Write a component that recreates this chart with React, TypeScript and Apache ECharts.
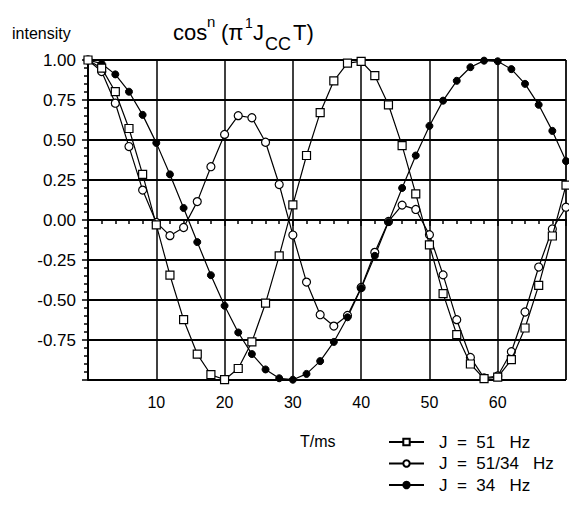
import React, { useEffect, useRef } from "react";
import * as echarts from "echarts";

const T_MS = [0, 2, 4, 6, 8, 10, 12, 14, 16, 18, 20, 22, 24, 26, 28, 30, 32, 34, 36, 38, 40, 42, 44, 46, 48, 50, 52, 54, 56, 58, 60, 62, 64, 66, 68, 70];

const J51 = [1, 0.949, 0.802, 0.572, 0.285, -0.031, -0.345, -0.623, -0.838, -0.967, -0.998, -0.928, -0.762, -0.52, -0.224, 0.094, 0.403, 0.671, 0.87, 0.981, 0.992, 0.902, 0.72, 0.465, 0.163, -0.156, -0.46, -0.716, -0.9, -0.991, -0.982, -0.873, -0.675, -0.409, -0.1, 0.218];

const J5134 = [1, 0.928, 0.73, 0.459, 0.187, -0.015, -0.098, -0.047, 0.115, 0.333, 0.535, 0.652, 0.639, 0.486, 0.222, -0.094, -0.388, -0.592, -0.663, -0.597, -0.422, -0.202, -0.009, 0.093, 0.066, -0.092, -0.343, -0.623, -0.859, -0.987, -0.975, -0.823, -0.575, -0.294, -0.056, 0.08];

const J34 = [1, 0.977, 0.91, 0.802, 0.657, 0.482, 0.285, 0.075, -0.138, -0.345, -0.536, -0.703, -0.838, -0.934, -0.989, -0.998, -0.962, -0.882, -0.762, -0.608, -0.426, -0.224, -0.013, 0.2, 0.403, 0.588, 0.746, 0.87, 0.955, 0.996, 0.992, 0.943, 0.851, 0.72, 0.557, 0.368];

const SERIES_NAMES = ["J  =  51   Hz", "J  =  51/34   Hz", "J  =  34   Hz"];
const X_TICKS_HIDDEN = [0, 70];

const FONT = "'Liberation Sans', Arial, Helvetica, sans-serif";

function pairs(ys: number[]) {
  return T_MS.map((t, i) => [t, ys[i]]);
}

function txt(text: string, x: number, baseline: number, size: number) {
  return {
    type: "text",
    x,
    y: baseline - size * 0.35,
    style: {
      text,
      fontSize: size,
      fontFamily: FONT,
      fill: "#000",
      align: "left",
      verticalAlign: "middle",
    },
  };
}

function legendRow(name: string, centerY: number) {
  return {
    orient: "horizontal",
    left: 388,
    top: centerY - 8.5,
    padding: 0,
    itemWidth: 35,
    itemHeight: 8,
    textStyle: { fontSize: 17, fontFamily: FONT, color: "#000", padding: [0, 0, 0, 10] },
    data: [name],
  };
}

export default function App() {
  const ref = useRef<HTMLDivElement>(null);
  useEffect(() => {
    if (!ref.current) return;
    const chart = echarts.init(ref.current, null, { renderer: "svg" });
    const lineStyle = { color: "#000", width: 1.2 };
    chart.setOption({
      animation: false,
      backgroundColor: "#fff",
      grid: {
        left: 88,
        top: 60,
        width: 480,
        height: 320,
        show: true,
        borderColor: "#000",
        borderWidth: 1,
        backgroundColor: "transparent",
      },
      xAxis: {
        type: "value",
        min: 0,
        max: 70,
        interval: 10,
        axisLine: { show: true, lineStyle: { color: "#000", width: 2 } },
        axisTick: { show: true, length: 6, lineStyle: { color: "#000", width: 1.5 } },
        minorTick: { show: true, splitNumber: 5, length: 4, lineStyle: { color: "#000", width: 1.5 } },
        splitLine: { show: true, lineStyle: { color: "#000", width: 1.5 } },
        axisLabel: {
          margin: 14,
          fontSize: 16,
          fontFamily: FONT,
          color: "#000",
          formatter: (v: number) => (X_TICKS_HIDDEN.includes(v) ? "" : String(v)),
        },
      },
      yAxis: {
        type: "value",
        min: -1,
        max: 1,
        interval: 0.25,
        axisLine: { show: true, lineStyle: { color: "#000", width: 2 } },
        axisTick: { show: true, length: 6, lineStyle: { color: "#000", width: 1.5 } },
        minorTick: { show: true, splitNumber: 5, length: 4, lineStyle: { color: "#000", width: 1.5 } },
        splitLine: { show: true, lineStyle: { color: "#000", width: 1.8 } },
        axisLabel: {
          margin: 12,
          fontSize: 17,
          fontFamily: FONT,
          color: "#000",
          formatter: (v: number) => (v <= -1 ? "" : v.toFixed(2)),
        },
      },
      legend: [
        legendRow(SERIES_NAMES[0], 442),
        legendRow(SERIES_NAMES[1], 463.5),
        legendRow(SERIES_NAMES[2], 485),
      ],
      graphic: [
        txt("intensity", 12, 39, 16),
        txt("cos", 173, 40, 22),
        txt("n", 207, 27, 15),
        txt("(π", 221, 40, 22),
        txt("1", 245, 27.5, 14),
        txt("J", 253, 40, 22),
        txt("CC", 265, 50, 18),
        txt("T)", 293, 40, 22),
        txt("T/ms", 300, 447.5, 16),
      ],
      series: [
        {
          name: SERIES_NAMES[0],
          type: "line",
          data: pairs(J51),
          symbol: "rect",
          symbolSize: 8,
          lineStyle,
          itemStyle: { color: "#fff", borderColor: "#000", borderWidth: 1.2 },
          z: 3,
        },
        {
          name: SERIES_NAMES[1],
          type: "line",
          data: pairs(J5134),
          symbol: "circle",
          symbolSize: 8,
          lineStyle,
          itemStyle: { color: "#fff", borderColor: "#000", borderWidth: 1.2 },
          z: 2,
        },
        {
          name: SERIES_NAMES[2],
          type: "line",
          data: pairs(J34),
          symbol: "circle",
          symbolSize: 7,
          lineStyle,
          itemStyle: { color: "#000", borderColor: "#000", borderWidth: 1 },
          z: 2,
        },
      ],
    });
    return () => chart.dispose();
  }, []);
  return (
    <div
      ref={ref}
      style={{ position: "absolute", left: 0, top: 0, width: 569, height: 507, background: "#fff" }}
    />
  );
}
